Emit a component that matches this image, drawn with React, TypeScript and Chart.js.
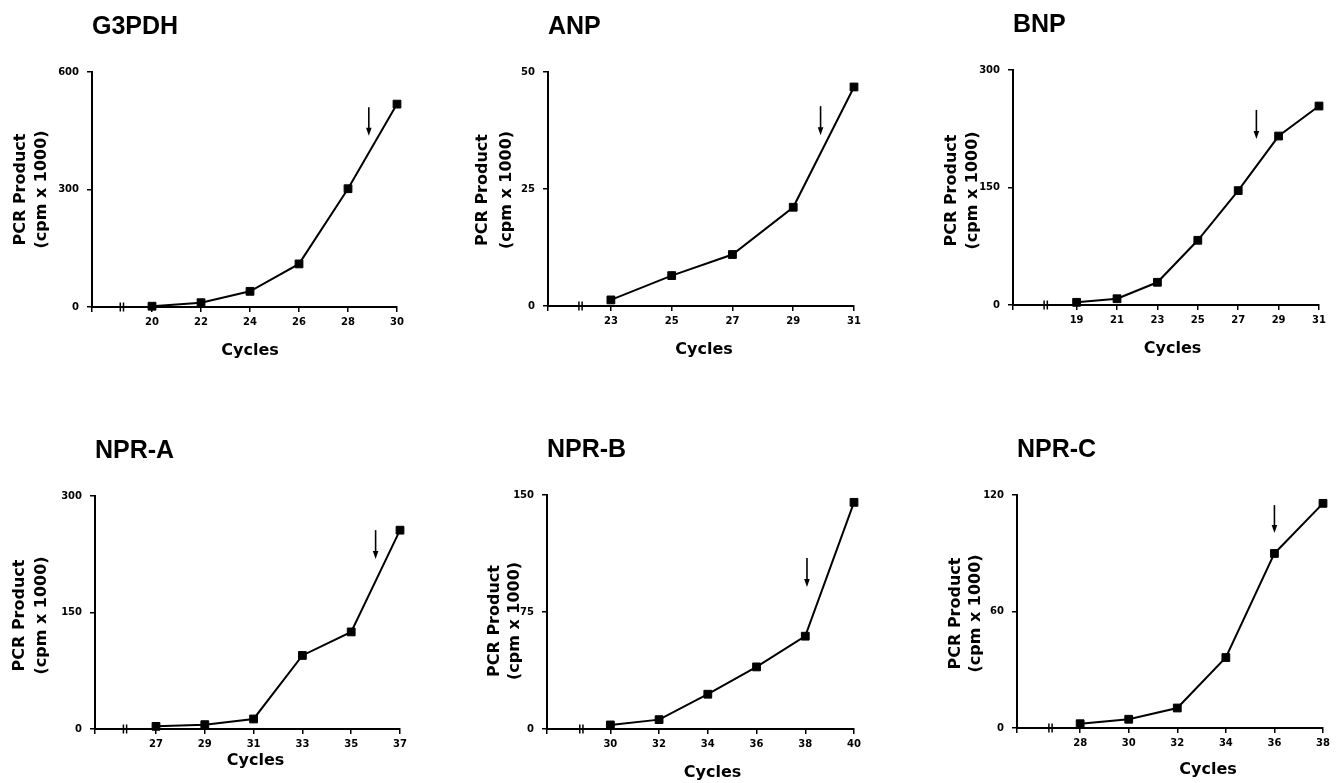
import React, { useEffect, useRef } from 'react';
import { Chart, registerables } from 'chart.js';

Chart.register(...registerables);

// ---------- data ----------
const panelTitles = ['G3PDH', 'ANP', 'BNP', 'NPR-A', 'NPR-B', 'NPR-C'];

const g3pdhCycles = [20, 22, 24, 26, 28, 30];
const g3pdhValues = [2, 11, 40, 110, 302, 518];

const anpCycles = [23, 25, 27, 29, 31];
const anpValues = [1.3, 6.5, 11, 21.1, 46.8];

const bnpCycles = [19, 21, 23, 25, 27, 29, 31];
const bnpValues = [3.4, 8, 29, 82.6, 146, 215.7, 254];

const npraCycles = [27, 29, 31, 33, 35, 37];
const npraValues = [3.4, 5.6, 12.9, 94.7, 125, 256];

const nprbCycles = [30, 32, 34, 36, 38, 40];
const nprbValues = [2.6, 6, 22.3, 39.8, 59.5, 145.3];

const nprcCycles = [28, 30, 32, 34, 36, 38];
const nprcValues = [2.2, 4.5, 10.3, 36.3, 89.9, 115.7];

const allCycles = [g3pdhCycles, anpCycles, bnpCycles, npraCycles, nprbCycles, nprcCycles];
const allValues = [g3pdhValues, anpValues, bnpValues, npraValues, nprbValues, nprcValues];

const yMaxes = [600, 50, 300, 300, 150, 120];
const xMins = [17.55, 20.93, 15.85, 24.5, 27.4, 25.4];
const axisBreaks = [18.77, 22.0, 17.47, 25.73, 28.81, 26.78];

// arrow markers (cycle, from value, to value)
const arrowCycles = [28.85, 29.9, 27.9, 36.0, 38.07, 36.0];
const arrowTops = [510, 42.7, 249, 256, 109.6, 114.8];
const arrowBottoms = [437, 36.5, 212, 219, 91, 100.4];

const yTitleLines = ['PCR Product', '(cpm x 1000)'];
const xTitle = 'Cycles';

// ---------- layout (pixels) ----------
// plot rectangles [left, top, right, bottom]
const plotRects = [
  [92, 72, 397, 307],
  [548, 72, 854, 306],
  [1013, 70, 1319, 305],
  [95, 496, 400, 729],
  [547, 495, 854, 729],
  [1017, 495, 1323, 728],
];
const yTitleOffsets = [
  [71, 50],
  [65, 41],
  [61, 40.5],
  [75, 53.5],
  [52, 32],
  [61, 41],
];
const yTitleShift = [0, 1, 3, 3, 9, 2];
const xTitleDx = [5.5, 3, 6.5, 8, 12, 38];
const xTitleDy = [44, 44, 44, 32, 44, 42];

const LEFT_M = 90;
const TOP_M = 70;
const RIGHT_M = 25;
const BOTTOM_M = 60;

const decorPlugin = {
  id: 'decor',
  afterDraw(chart: any, _args: any, opts: any) {
    const p = opts.panel as number;
    const { ctx, chartArea: ca } = chart;
    const xs = chart.scales.x;
    const ys = chart.scales.y;
    ctx.save();
    ctx.fillStyle = '#000';
    ctx.strokeStyle = '#000';

    // panel title
    ctx.font = 'bold 25px "Liberation Sans", Arial, sans-serif';
    ctx.textAlign = 'left';
    ctx.textBaseline = 'alphabetic';
    ctx.fillText(panelTitles[p], ca.left, ca.top - 38);

    // y-axis title (two rotated lines)
    ctx.font = 'bold 16px "DejaVu Sans", sans-serif';
    ctx.textAlign = 'center';
    ctx.textBaseline = 'middle';
    const cy = (ca.top + ca.bottom) / 2 + yTitleShift[p];
    yTitleLines.forEach((line, i) => {
      ctx.save();
      ctx.translate(ca.left - yTitleOffsets[p][i], cy);
      ctx.rotate(-Math.PI / 2);
      ctx.fillText(line, 0, 0);
      ctx.restore();
    });

    // x-axis title
    ctx.fillText(xTitle, (ca.left + ca.right) / 2 + xTitleDx[p], ca.bottom + xTitleDy[p]);

    // axis break marks
    const bx = xs.getPixelForValue(axisBreaks[p]);
    const by = ys.getPixelForValue(0);
    ctx.lineWidth = 1.5;
    [-1.6, 1.6].forEach((d) => {
      ctx.beginPath();
      ctx.moveTo(bx + d, by - 4.5);
      ctx.lineTo(bx + d, by + 4.5);
      ctx.stroke();
    });

    // arrow
    const ax = xs.getPixelForValue(arrowCycles[p]);
    const at = ys.getPixelForValue(arrowTops[p]);
    const ab = ys.getPixelForValue(arrowBottoms[p]);
    ctx.lineWidth = 1.6;
    ctx.beginPath();
    ctx.moveTo(ax, at);
    ctx.lineTo(ax, ab - 5);
    ctx.stroke();
    ctx.beginPath();
    ctx.moveTo(ax - 2.8, ab - 8);
    ctx.lineTo(ax + 2.8, ab - 8);
    ctx.lineTo(ax, ab);
    ctx.closePath();
    ctx.fill();

    ctx.restore();
  },
};

const tickFont = { family: '"DejaVu Sans", sans-serif', size: 10, weight: 'bold' as const };

function Panel({ index }: { index: number }) {
  const ref = useRef<HTMLCanvasElement | null>(null);
  const [L, T, R, B] = plotRects[index];
  const width = R - L + LEFT_M + RIGHT_M;
  const height = B - T + TOP_M + BOTTOM_M;

  useEffect(() => {
    if (!ref.current) return;
    const cycles = allCycles[index];
    const values = allValues[index];
    const xMin = xMins[index];
    const xMax = cycles[cycles.length - 1];
    const yMax = yMaxes[index];
    const chart = new Chart(ref.current, {
      type: 'line',
      data: {
        datasets: [
          {
            data: cycles.map((c, i) => ({ x: c, y: values[i] })),
            borderColor: '#000',
            borderWidth: 2,
            pointStyle: 'rect',
            pointRadius: 5.5,
            pointBackgroundColor: '#000',
            pointBorderColor: '#000',
            pointBorderWidth: 1,
            tension: 0,
            clip: false as any,
            fill: false,
          },
        ],
      },
      options: {
        animation: false,
        responsive: false,
        devicePixelRatio: 1,
        events: [],
        layout: {
          autoPadding: false,
          padding: { left: 0, top: TOP_M, right: RIGHT_M, bottom: 0 },
        },
        plugins: {
          legend: { display: false },
          title: { display: false },
          tooltip: { enabled: false },
          decor: { panel: index },
        } as any,
        scales: {
          x: {
            type: 'linear',
            min: xMin,
            max: xMax,
            afterBuildTicks: (s: any) => {
              s.ticks = [xMin, ...cycles].map((v) => ({ value: v }));
            },
            afterFit: (s: any) => {
              s.height = BOTTOM_M;
            },
            ticks: {
              autoSkip: false,
              maxRotation: 0,
              minRotation: 0,
              color: '#000',
              font: tickFont,
              padding: 4,
              callback: (v: any) => (cycles.includes(v) ? String(v) : ''),
            },
            grid: {
              display: true,
              drawOnChartArea: false,
              drawTicks: true,
              tickLength: 5,
              color: '#000',
              lineWidth: 1.5,
            },
            border: { display: true, color: '#000', width: 2 },
          },
          y: {
            type: 'linear',
            min: 0,
            max: yMax,
            afterBuildTicks: (s: any) => {
              s.ticks = [0, yMax / 2, yMax].map((v) => ({ value: v }));
            },
            afterFit: (s: any) => {
              s.width = LEFT_M;
            },
            ticks: {
              color: '#000',
              font: tickFont,
              padding: 8,
              callback: (v: any) => String(v),
            },
            grid: {
              display: true,
              drawOnChartArea: false,
              drawTicks: true,
              tickLength: 5,
              color: '#000',
              lineWidth: 1.5,
            },
            border: { display: true, color: '#000', width: 2 },
          },
        },
      } as any,
      plugins: [decorPlugin as any],
    });
    return () => chart.destroy();
  }, [index]);

  return (
    <canvas
      ref={ref}
      width={width}
      height={height}
      style={{
        position: 'absolute',
        left: L - LEFT_M,
        top: T - TOP_M,
        width,
        height,
      }}
    />
  );
}

export default function App() {
  return (
    <div
      style={{
        position: 'absolute',
        left: 0,
        top: 0,
        width: 1336,
        height: 783,
        overflow: 'hidden',
        background: '#fff',
      }}
    >
      {panelTitles.map((_, i) => (
        <Panel key={i} index={i} />
      ))}
    </div>
  );
}
